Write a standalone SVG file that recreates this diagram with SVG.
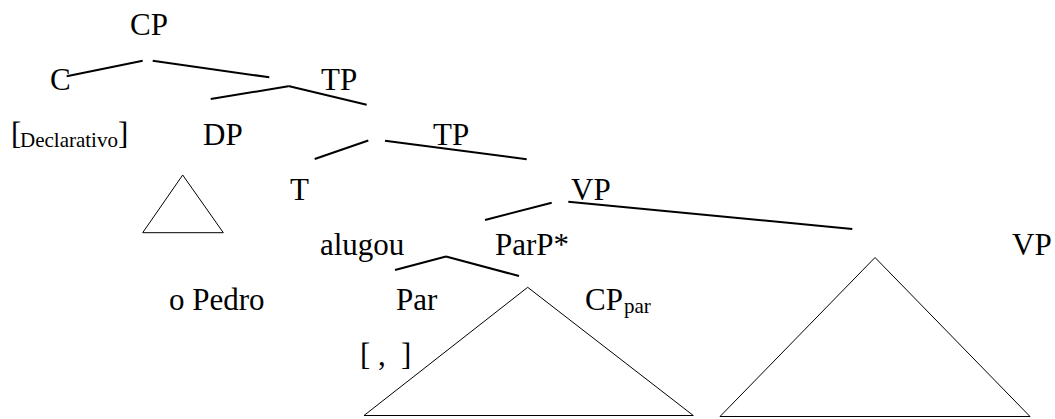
<svg xmlns="http://www.w3.org/2000/svg" width="1055" height="419" viewBox="0 0 1055 419">
<style>
text{font-family:'Liberation Serif','Times New Roman',serif;font-size:31px;fill:#000}
.sm{font-size:21px}
.edge{stroke:#000;stroke-width:2;fill:none}
.tri{stroke:#000;stroke-width:1;fill:none}
</style>
<rect width="1055" height="419" fill="#fff"/>
<g id="connectors">
<line class="edge" x1="66.7" y1="76.3" x2="142.7" y2="60.7"/>
<line class="edge" x1="152.7" y1="60.7" x2="269.3" y2="77.3"/>
<line class="edge" x1="210.7" y1="99" x2="288.3" y2="86.3"/>
<line class="edge" x1="288.3" y1="86" x2="366.7" y2="104.7"/>
<line class="edge" x1="314.7" y1="159" x2="368.3" y2="140.5"/>
<line class="edge" x1="385" y1="140.7" x2="526.7" y2="159.3"/>
<line class="edge" x1="485" y1="220" x2="551.7" y2="202.7"/>
<line class="edge" x1="568.3" y1="201.7" x2="852.3" y2="229"/>
<line class="edge" x1="395" y1="270" x2="446" y2="256.5"/>
<line class="edge" x1="446" y1="256.5" x2="519" y2="276"/>
</g>
<g id="node-CP"><text x="130" y="35">CP</text></g>
<g id="node-C"><text x="50" y="90">C</text></g>
<g id="node-TP1"><text x="321" y="90">TP</text></g>
<g id="node-Declarativo"><text x="11" y="144">[</text><text class="sm" x="20" y="147">Declarativo</text><text x="118" y="144">]</text></g>
<g id="node-DP"><text x="203" y="145">DP</text></g>
<g id="node-TP2"><text x="433" y="145">TP</text></g>
<g id="node-DP-triangle"><polygon class="tri" points="182.7,175 142.7,232.7 223.3,232.7"/></g>
<g id="node-T"><text x="290" y="200">T</text></g>
<g id="node-VP1"><text x="571" y="200">VP</text></g>
<g id="node-alugou"><text x="320" y="255">alugou</text></g>
<g id="node-ParP"><text x="495" y="255">ParP*</text></g>
<g id="node-VP2"><text x="1012" y="255">VP</text></g>
<g id="node-oPedro"><text x="169" y="310">o Pedro</text></g>
<g id="node-Par"><text x="396" y="310">Par</text></g>
<g id="node-CPpar"><text x="585" y="310">CP</text><text class="sm" x="624" y="313">par</text></g>
<g id="node-comma"><text x="360" y="365">[</text><text x="378" y="365">,</text><text x="401" y="365">]</text></g>
<g id="node-CPpar-triangle"><polygon class="tri" points="527.7,287.3 364,415.5 693.3,415.5"/></g>
<g id="node-VP2-triangle"><polygon class="tri" points="875,257.5 720,416.5 1030,416.5"/></g>
</svg>
